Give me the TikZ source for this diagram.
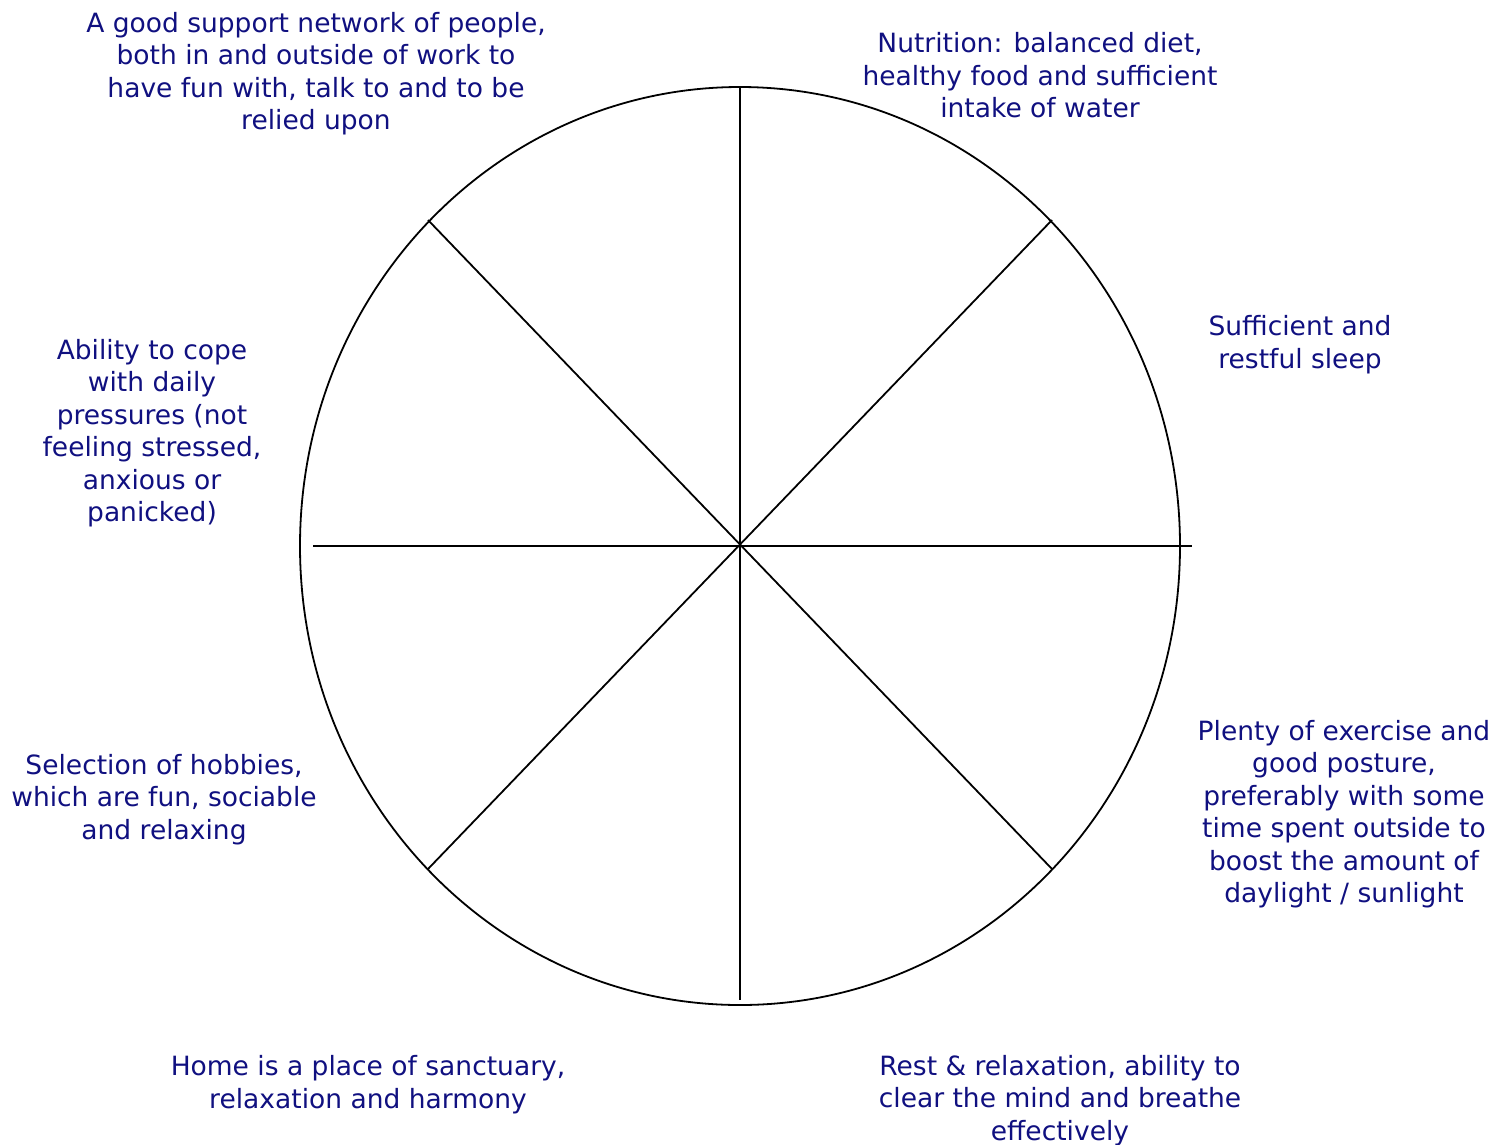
\documentclass[tikz,border=0pt]{standalone}
\usepackage{fontspec}
\setmainfont{DejaVu Sans}
\definecolor{txtblue}{RGB}{16,16,128}
\begin{document}
\begin{tikzpicture}[x=1pt,y=-1pt,
  lbl/.style={text=txtblue,align=center,inner sep=0pt,font=\fontsize{26.5}{32.5}\selectfont},
  wheel/.style={line width=1.8pt,black}]
\useasboundingbox (0,0) rectangle (1509,1144);
\coordinate (c) at (740,546);
\draw[wheel] (c) ellipse [x radius=440, y radius=459];
\coordinate (t) at (740,87);
\coordinate (b) at (740,1000);
\coordinate (l) at (313,546);
\coordinate (r) at (1192,546);
\coordinate (tl) at (428,220);
\coordinate (tr) at (1052,220);
\coordinate (bl) at (428,869);
\coordinate (br) at (1052,869);
\draw[wheel] (t) -- (b);
\draw[wheel] (l) -- (r);
\draw[wheel] (tl) -- (br);
\draw[wheel] (tr) -- (bl);
\node[lbl] (n1) at (316,73.5) {A good support network of people,\\both in and outside of work to\\have fun with, talk to and to be\\relied upon};
\node[lbl] (n2) at (1040,75.5) {Nutrition: balanced diet,\\healthy food and sufficient\\intake of water};
\node[lbl] (n3) at (1300,344.5) {Sufficient and\\restful sleep};
\node[lbl] (n4) at (152,433) {Ability to cope\\with daily\\pressures (not\\feeling stressed,\\anxious or\\panicked)};
\node[lbl] (n5) at (164,799.5) {Selection of hobbies,\\which are fun, sociable\\and relaxing};
\node[lbl] (n6) at (1344,814) {Plenty of exercise and\\good posture,\\preferably with some\\time spent outside to\\boost the amount of\\daylight / sunlight};
\node[lbl] (n7) at (368,1084.5) {Home is a place of sanctuary,\\relaxation and harmony};
\node[lbl] (n8) at (1060,1100.5) {Rest \& relaxation, ability to\\clear the mind and breathe\\effectively};
\end{tikzpicture}
\end{document}
